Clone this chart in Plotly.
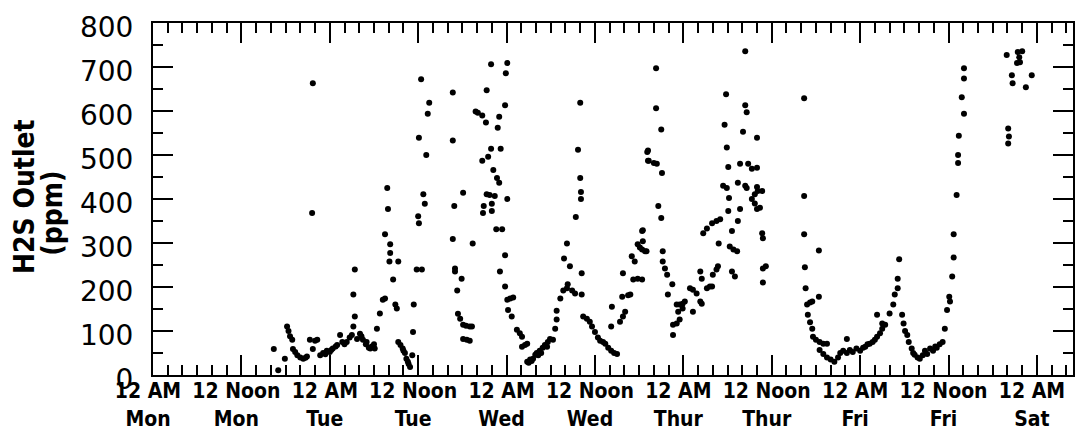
import plotly.graph_objects as go

# ---- data: (hours since Mon 12 AM, H2S outlet ppm) ----
mon_tue = [(16.4,59),(17.0,11),(17.9,37),(18.2,110),(18.4,100),(18.6,88),(18.9,80),(19.0,59),
 (19.3,52),(19.6,45),(20.0,40),(20.4,37),(20.7,39),(20.9,42),(21.3,80),(21.6,368),(21.7,663),
 (21.7,59),(22.0,78),(22.3,80),(22.7,45),(23.1,50),(23.4,47),(23.6,55),(24.0,52),(24.2,57),
 (24.4,60),(24.8,65),(25.0,68),(25.4,91),(25.7,75),(26.0,70),(26.3,75),(26.7,85),(27.0,91),
 (27.2,110),(27.2,183),(27.4,133),(27.4,240),(27.7,82),(28.1,94),(28.3,88),(28.5,80),(28.9,70),
 (29.0,75),(29.3,62),(29.5,60),(29.7,65),(30.0,70),(30.1,60),(30.4,105),(30.8,140),(31.2,171),
 (31.5,174),(31.5,320),(31.8,425),(31.9,377),(32.1,258),(32.2,297),(32.2,277),(32.6,217),
 (32.9,160),(33.1,151),(33.3,258),(33.3,75),(33.6,68),(33.9,60),(34.0,55),(34.2,50),(34.4,37),
 (34.6,30),(34.7,25),(34.9,18),(35.2,45),(35.3,98),(35.4,160),(35.8,240),(36.0,361),(36.1,345),
 (36.1,539),(36.4,672),(36.5,240),(36.7,411),(36.9,389),(37.1,500),(37.3,594),(37.5,619)]

tue_wed = [(40.7,642),(40.7,533),(40.9,384),(40.7,309),(41.0,242),(41.0,235),(41.3,192),
 (41.4,139),(41.7,128),(41.9,219),(42.1,414),(42.1,114),(42.5,112),(43.0,110),(43.3,110),
 (42.1,82),(42.6,80),(43.0,78),(43.4,299),(43.8,599),(44.1,596),(44.7,590),(44.7,487),
 (44.8,368),(44.9,384),(45.2,574),(45.3,647),(45.3,411),(45.5,496),(45.7,409),(45.9,706),
 (45.9,514),(46.0,389),(46.0,373),(46.2,466),(46.4,407),(46.6,331),(46.7,448),(46.8,562),
 (47.0,587),(47.0,437),(47.1,235),(47.2,514),(47.4,331),(47.8,613),(47.8,272),(47.8,201),
 (47.9,686),(48.1,709),(48.1,400),(48.1,171),(48.2,148),(48.5,174),(48.7,133),(48.9,176),
 (49.4,103),(49.8,95),(50.1,87),(50.1,64),(50.5,68),(50.8,71),(50.8,30),(51.0,28),(51.2,35),
 (51.4,32),(51.6,37),(51.9,46),(52.1,50),(52.3,45),(52.5,55),(52.7,50),(52.9,62),(53.2,68),
 (53.5,64),(53.6,75),(53.9,82),(54.3,80),(54.6,105),(54.8,126),(54.8,146),(55.3,174),
 (55.7,192),(55.8,265),(56.2,299),(56.2,197),(56.3,206),(56.6,247),(56.9,192),(57.3,185),
 (57.4,359),(57.7,512),(58.0,448),(58.0,619),(58.1,416),(58.1,400),(58.2,231),(58.2,183),
 (58.4,133),(58.9,128),(59.3,121),(59.6,110),(60.0,98),(60.4,85),(60.7,78),(61.1,75),
 (61.4,71),(61.8,62),(62.2,55),(62.6,50),(63.0,48),(62.2,110),(62.3,155),(63.4,121),
 (63.8,133),(64.1,144),(63.7,178),(64.5,181),(64.8,183),(63.8,231),(65.0,270),(65.2,217),
 (65.4,258),(65.8,219),(65.8,297),(66.1,290),(66.4,285),(66.5,329),(66.8,281),(67.2,510),
 (67.2,487)]

wed_thu = [(66.4,327),(66.5,304),(67.0,281),(66.4,217),(68.3,697),(68.3,606),(69.0,558),
 (67.1,507),(67.3,487),(68.0,482),(68.4,480),(69.1,459),(68.6,384),(69.0,357),(69.2,281),
 (69.2,258),(69.5,242),(69.8,228),(70.5,206),(69.9,183),(70.6,114),(70.6,91),(71.1,117),
 (71.3,144),(71.5,126),(71.9,151),(71.1,160),(71.5,160),(71.9,162),(72.2,167),(72.9,197),
 (73.3,194),(73.8,185),(73.3,144),(74.3,167),(74.5,162),(74.3,235),(74.5,219),(75.2,197),
 (75.6,201),(75.9,201),(76.0,228),(76.5,240),(76.7,247),(76.8,299),(74.7,322),(75.2,333),
 (75.9,345),(76.5,350),(77.0,354),(78.3,292),(78.8,285),(79.3,281),(78.6,235),(79.0,224),
 (78.6,327),(79.4,350),(78.2,402),(77.4,430),(77.9,425),(78.1,373),(78.1,473),(77.9,517),
 (77.6,569),(77.8,638),(79.7,480),(79.4,437),(80.1,553),(80.4,613),(80.6,597),(80.4,736),
 (79.7,377),(80.4,430),(80.6,425),(80.8,480),(81.3,469),(81.3,400),(81.7,390),(82.0,377),
 (81.7,411),(82.0,539),(82.0,471),(82.0,427),(82.1,418),(82.7,418),(82.4,380),(82.7,322),
 (82.8,311),(82.8,242),(83.2,247),(82.8,210)]

thu_fri = [(88.4,629),(88.4,407),(88.4,320),(90.4,283),(88.5,245),(88.6,197),(90.4,178),
 (88.8,160),(89.2,165),(89.5,167),(88.9,137),(89.2,120),(89.5,105),(89.6,87),(90.0,80),
 (90.5,75),(91.0,71),(91.5,71),(90.5,57),(91.0,48),(91.5,40),(92.0,35),(92.5,30),(93.0,40),
 (93.3,50),(94.2,82),(93.7,55),(94.2,50),(94.6,57),(95.0,52),(95.5,60),(96.0,55),(96.4,62),
 (96.7,64),(97.0,70),(97.3,71),(97.7,75),(98.0,80),(98.3,87),(98.7,95),(99.0,105),(99.4,114),
 (98.3,137),(100.0,140),(99.0,117),(100.5,160),(100.7,183),(101.1,197),(101.1,219),
 (101.3,263),(101.7,137),(101.9,117),(102.1,100),(102.4,91),(102.6,75),(103.0,60),(103.2,50),
 (103.4,46),(103.8,40),(104.1,37),(104.5,45),(104.8,55),(105.1,48),(105.5,60),(105.9,55),
 (106.2,65),(106.4,62),(106.8,70),(107.2,75),(107.5,105),(107.8,148),(108.1,178),(108.2,167),
 (108.5,224),(108.7,267),(108.7,320),(109.1,409),(109.3,500),(109.3,482),(109.4,544),
 (110.1,594),(109.8,631),(110.1,674),(110.1,697)]

sat = [(115.9,727),(116.1,560),(116.2,542),(116.1,526),(116.6,681),(116.7,663),(117.3,709),
 (117.4,734),(117.6,722),(117.7,711),(118.0,736),(118.5,654),(119.3,681)]

tick_hours = [0, 12, 24, 36, 48, 60, 72, 84, 96, 108, 120]
tick_labels = ["12 AM<br>Mon", "12 Noon<br>Mon", "12 AM<br>Tue", "12 Noon<br>Tue",
               "12 AM<br>Wed", "12 Noon<br>Wed", "12 AM<br>Thur", "12 Noon<br>Thur",
               "12 AM<br>Fri", "12 Noon<br>Fri", "12 AM<br>Sat"]

segments = [mon_tue, tue_wed, wed_thu, thu_fri, sat]

fig = go.Figure()
for seg in segments:
    fig.add_trace(go.Scatter(
        x=[p[0] for p in seg], y=[p[1] for p in seg], mode="markers",
        marker=dict(color="black", size=6, line=dict(width=0)),
        hoverinfo="x+y"))

axis_common = dict(
    showline=True, linewidth=2, linecolor="black", mirror="ticks",
    ticks="inside", ticklen=20, tickwidth=2, tickcolor="black",
    showgrid=False, zeroline=False, automargin=False,
)

fig.update_xaxes(
    **axis_common, range=[0, 124.9], tickmode="array", tickvals=tick_hours,
    ticktext=tick_labels, tickangle=0, ticklabelshift=-5, ticklabelstandoff=-4,
    minor=dict(dtick=2, tick0=0, ticks="inside", ticklen=10, tickwidth=2,
               tickcolor="black", showgrid=False),
    tickfont=dict(family="DejaVu Sans Condensed, DejaVu Sans", size=21, color="black",
                  weight="bold"),
)
fig.update_yaxes(
    **axis_common, range=[0, 800], tickmode="linear", tick0=0, dtick=100,
    ticklabelstandoff=12, ticklabelshift=4,
    minor=dict(dtick=50, ticks="inside", ticklen=10, tickwidth=2,
               tickcolor="black", showgrid=False),
    tickfont=dict(family="DejaVu Sans", size=28, color="black"),
)

fig.add_annotation(text="<b>H2S Outlet</b>", textangle=-90, xref="paper", yref="paper",
                   x=-0.139, y=0.506, xanchor="center", yanchor="middle", showarrow=False,
                   font=dict(family="DejaVu Sans Condensed, DejaVu Sans", size=28, color="black"))
fig.add_annotation(text="<b>(ppm)</b>", textangle=-90, xref="paper", yref="paper",
                   x=-0.108, y=0.46, xanchor="center", yanchor="middle", showarrow=False,
                   xshift=-2,
                   font=dict(family="DejaVu Sans Condensed, DejaVu Sans", size=28, color="black"))

fig.update_layout(
    width=1075, height=440, margin=dict(l=153, r=2, t=23, b=65),
    plot_bgcolor="white", paper_bgcolor="white", showlegend=False,
)

fig.write_html("out.html", config={"displayModeBar": False},
               post_script="document.body.style.margin='0';")
